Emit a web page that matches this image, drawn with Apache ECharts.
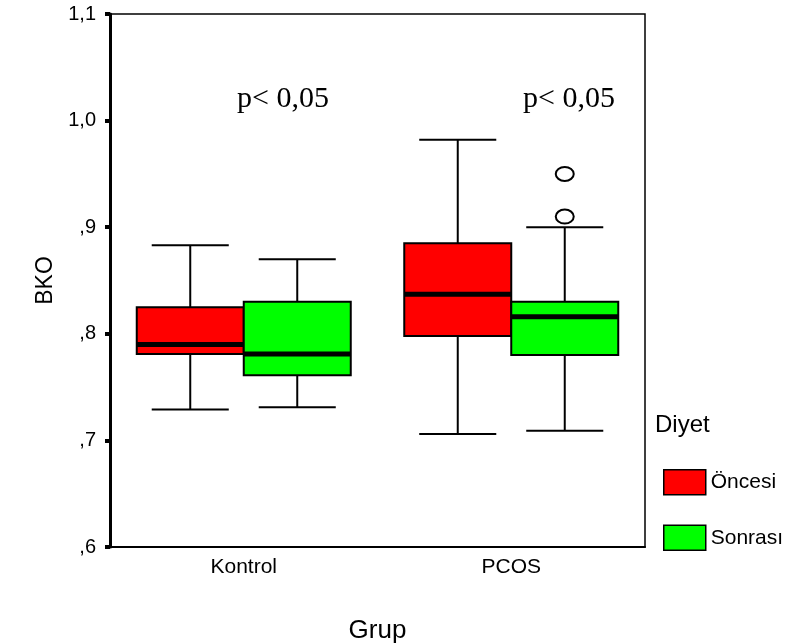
<!DOCTYPE html>
<html>
<head>
<meta charset="utf-8">
<script src="https://cdn.jsdelivr.net/npm/echarts@6/dist/echarts.min.js"></script>
<style>html,body{margin:0;padding:0;background:#fff}#c{width:802px;height:643px}</style>
</head>
<body>
<div id="c"></div>
<script>
// Data: [categoryIndex, min, Q1, median, Q3, max]
const categories = ['Kontrol', 'PCOS'];
const yTicks = [0.6, 0.7, 0.8, 0.9, 1.0, 1.1];
const onceStats = [
  [0, 0.729, 0.781, 0.790, 0.825, 0.883],
  [1, 0.706, 0.798, 0.837, 0.885, 0.982]
];
const sonraStats = [
  [0, 0.731, 0.761, 0.781, 0.830, 0.870],
  [1, 0.709, 0.780, 0.816, 0.830, 0.900]
];
const sonraOutliers = [
  [1, 0.950],
  [1, 0.910]
];
const seriesNames = ['Öncesi', 'Sonrası'];
const colors = ['#ff0000', '#00ff00'];
const SANS = '"Liberation Sans", Arial, Helvetica, sans-serif';

const chart = echarts.init(document.getElementById('c'));

function boxRenderer(side, color) {
  return function (params, api) {
    const cat = api.value(0);
    const bw = api.size([1, 0])[0];
    const w = bw * 0.4;
    const cx = api.coord([cat, yTicks[0]])[0];
    const x0 = side < 0 ? cx - w : cx;
    const xc = x0 + w / 2;
    const capHalf = w * 0.36;
    const y = i => api.coord([cat, api.value(i)])[1];
    const yMin = y(1), yQ1 = y(2), yMed = y(3), yQ3 = y(4), yMax = y(5);
    const ls = { stroke: '#000', lineWidth: 2 };
    return {
      type: 'group',
      children: [
        { type: 'line', shape: { x1: xc, y1: yMax, x2: xc, y2: yQ3 }, style: ls },
        { type: 'line', shape: { x1: xc, y1: yQ1, x2: xc, y2: yMin }, style: ls },
        { type: 'line', shape: { x1: xc - capHalf, y1: yMax, x2: xc + capHalf, y2: yMax }, style: ls },
        { type: 'line', shape: { x1: xc - capHalf, y1: yMin, x2: xc + capHalf, y2: yMin }, style: ls },
        { type: 'rect', shape: { x: x0, y: yQ3, width: w, height: yQ1 - yQ3 }, style: { fill: color, stroke: '#000', lineWidth: 2 } },
        { type: 'line', shape: { x1: x0, y1: yMed, x2: x0 + w, y2: yMed }, style: { stroke: '#000', lineWidth: 5 } }
      ]
    };
  };
}

function outlierRenderer(side) {
  return function (params, api) {
    const cat = api.value(0);
    const bw = api.size([1, 0])[0];
    const w = bw * 0.4;
    const c = api.coord([cat, api.value(1)]);
    const xc = side < 0 ? c[0] - w / 2 : c[0] + w / 2;
    return {
      type: 'ellipse',
      shape: { cx: xc, cy: c[1], rx: 9, ry: 7 },
      style: { fill: '#fff', stroke: '#000', lineWidth: 2 }
    };
  };
}

const option = {
  animation: false,
  backgroundColor: '#fff',
  textStyle: { fontFamily: SANS },
  grid: {
    left: 110, right: 157, top: 14, bottom: 96,
    outerBoundsMode: 'none', containLabel: false,
    show: true, borderColor: '#000', borderWidth: 1.5, backgroundColor: 'transparent'
  },
  title: {
    text: 'Diyet', left: 655, top: 413, padding: 0,
    textStyle: { fontSize: 24, fontWeight: 'normal', color: '#000', fontFamily: SANS }
  },
  legend: {
    orient: 'vertical', left: 663, top: 469, padding: 0,
    itemWidth: 42, itemHeight: 25, itemGap: 29, itemTextGap: 4,
    textStyle: { fontSize: 21, color: '#000', fontFamily: SANS },
    data: seriesNames.map((n, i) => ({
      name: n, icon: 'rect',
      itemStyle: { color: colors[i], borderColor: '#000', borderWidth: 1.5 }
    }))
  },
  xAxis: {
    type: 'category',
    data: categories,
    boundaryGap: true,
    name: 'Grup',
    nameLocation: 'middle',
    nameGap: 71,
    nameTextStyle: { fontSize: 26, color: '#000', fontFamily: SANS },
    axisLine: { lineStyle: { color: '#000', width: 2 } },
    axisTick: { alignWithLabel: true, length: 4, lineStyle: { color: '#000', width: 6 } },
    axisLabel: { fontSize: 21, color: '#000', margin: 10, fontFamily: SANS },
    splitLine: { show: false }
  },
  yAxis: {
    type: 'value',
    min: yTicks[0], max: yTicks[yTicks.length - 1], interval: 0.1,
    name: 'BKO',
    nameLocation: 'middle',
    nameGap: 52,
    nameTextStyle: { fontSize: 23, color: '#000', fontFamily: SANS },
    axisLine: { show: true, lineStyle: { color: '#000', width: 3 } },
    axisTick: { show: true, length: 5, lineStyle: { color: '#000', width: 4 } },
    axisLabel: {
      fontSize: 20, color: '#000', margin: 14, fontFamily: SANS,
      formatter: v => {
        const s = v.toFixed(1).replace('.', ',');
        return s.startsWith('0') ? s.slice(1) : s;
      }
    },
    splitLine: { show: false }
  },
  graphic: [
    { type: 'text', left: 237, top: 84, style: { text: 'p< 0,05', font: '30px "Liberation Serif", "Times New Roman", serif', fill: '#000' } },
    { type: 'text', left: 523, top: 84, style: { text: 'p< 0,05', font: '30px "Liberation Serif", "Times New Roman", serif', fill: '#000' } }
  ],
  series: [
    { name: seriesNames[0], type: 'custom', renderItem: boxRenderer(-1, colors[0]), data: onceStats, itemStyle: { color: colors[0] }, encode: { x: 0, y: [1, 2, 3, 4, 5] }, z: 3 },
    { name: seriesNames[1], type: 'custom', renderItem: boxRenderer(1, colors[1]), data: sonraStats, itemStyle: { color: colors[1] }, encode: { x: 0, y: [1, 2, 3, 4, 5] }, z: 3 },
    { name: seriesNames[1] + ' outliers', type: 'custom', renderItem: outlierRenderer(1), data: sonraOutliers, encode: { x: 0, y: 1 }, z: 4 }
  ]
};
chart.setOption(option);
</script>
</body>
</html>
